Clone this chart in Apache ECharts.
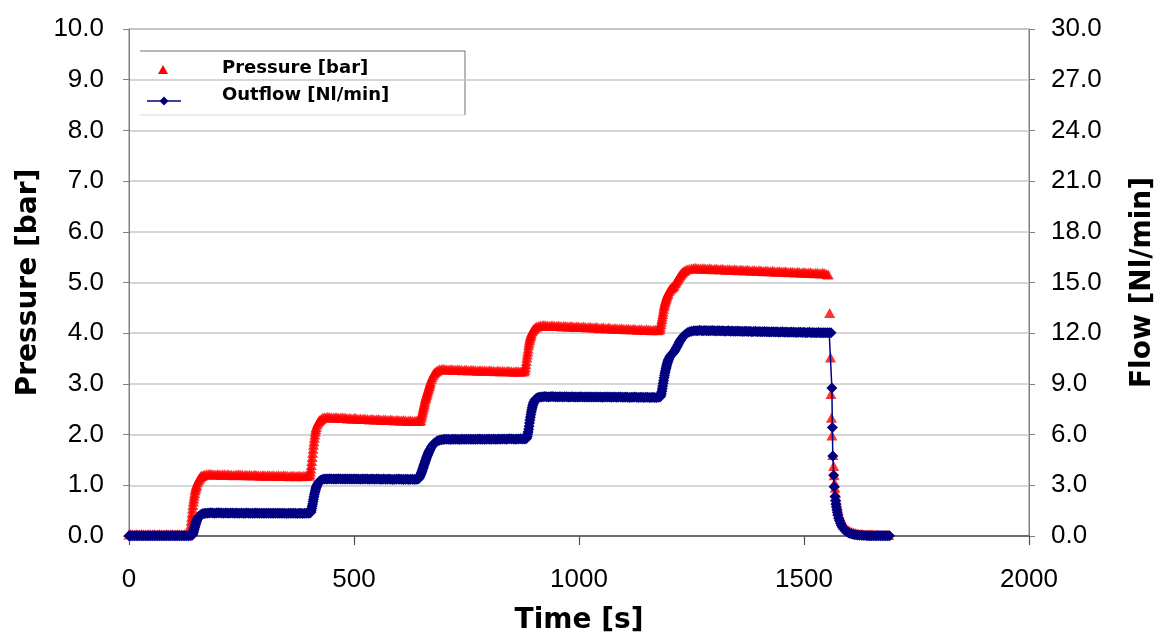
<!DOCTYPE html>
<html>
<head>
<meta charset="utf-8">
<script src="https://cdn.jsdelivr.net/npm/echarts@6/dist/echarts.min.js"></script>
<style>
html,body{margin:0;padding:0;background:#fff;}
#chart{width:1165px;height:640px;}
</style>
</head>
<body>
<div id="chart"></div>
<script>
// ---- data ----
const xTicks = [0, 500, 1000, 1500, 2000];
const seriesNames = ['Pressure [bar]', 'Outflow [Nl/min]'];

// Pressure [bar] vs time [s] (left axis)
const pressureTime = [
 0,4,8,12,16,20,24,28,32,36, 40,44,48,52,56,60,64,68,72,76, 80,84,88,92,96,100,104,108,112,116, 120,124,128,132,
 134,135,136,137,138,139,140,141,142,143, 144,145,146,147,148,149,150,152,154,156, 158,160,162,165,168,172,
 176,180,184,188,192,196,200,204,208,212, 216,220,224,228,232,236,240,244,248,252, 256,260,264,268,272,276,280,284,288,292,
 296,300,304,308,312,316,320,324,328,332, 336,340,344,348,352,356,360,364,368,372, 376,380,384,388,392,396,400,
 402,403,404,405,406,407,408,409,410,411, 412,413,414,415,416,418,420,422,424,427, 430,434,
 438,442,446,450,454,458,462,466,470,474, 478,482,486,490,494,498,502,506,510,514, 518,522,526,530,534,538,542,546,550,554,
 558,562,566,570,574,578,582,586,590,594, 598,602,606,610,614,618,622,626,630,634, 638,642,646,
 648,649,650,651,652,653,654,655,656,657, 658,659,660,661,662,663,664,665,666,667, 668,669,670,672,674,676,678,680,683,686, 690,
 694,698,702,706,710,714,718,722,726,730, 734,738,742,746,750,754,758,762,766,770, 774,778,782,786,790,794,798,802,806,810,
 814,818,822,826,830,834,838,842,846,850, 854,858,862,866,870,874,878,
 880,881,882,883,884,885,886,887,888,889, 890,891,892,893,894,896,898,900,903,906, 910,914,
 918,922,926,930,934,938,942,946,950,954, 958,962,966,970,974,978,982,986,990,994, 998,1002,1006,1010,1014,1018,1022,1026,1030,1034,
 1038,1042,1046,1050,1054,1058,1062,1066,1070,1074, 1078,1082,1086,1090,1094,1098,1102,1106,1110,1114, 1118,1122,1126,1130,1134,1138,1142,1146,1150,1154,
 1158,1162,1166,1170,1174,1178,
 1180,1181,1182,1183,1184,1185,1186,1187,1188,1189, 1190,1191,1192,1193,1194,1195,1196,1197,1198,1200, 1202,1204,1206,1208,1210,1212,1214,1216,1218,1220,
 1222,1224,1226,1228,1230,1233,1236,1240,1245,1250,
 1254,1258,1262,1266,1270,1274,1278,1282,1286,1290, 1294,1298,1302,1306,1310,1314,1318,1322,1326,1330, 1334,1338,1342,1346,1350,1354,1358,1362,1366,1370,
 1374,1378,1382,1386,1390,1394,1398,1402,1406,1410, 1414,1418,1422,1426,1430,1434,1438,1442,1446,1450, 1454,1458,1462,1466,1470,1474,1478,1482,1486,1490,
 1494,1498,1502,1506,1510,1514,1518,1522,1526,1530, 1534,1538,1542,1546,1550,1554,
 1557,1559,1560,1561,1562,1564,1566,1567,1568,1569, 1570,1571,1572,1574,1576,1578,1580,1582,1585,1588, 1591,1594,1598,1602,1606,1610,1615,1620,1625,1630,
 1635,1640,1644,1648,1652,1656,1660,1664,1668,1672, 1676,1680,1684,1688
];
const pressure = [
 0.03,0.04,0.03,0.03,0.04,0.03,0.03,0.04,0.03,0.03, 0.03,0.04,0.03,0.03,0.04,0.03,0.03,0.04,0.03,0.03, 0.03,0.04,0.03,0.03,0.04,0.03,0.03,0.04,0.03,0.03, 0.03,0.04,0.03,0.04,
 0.04,0.08,0.14,0.22,0.3,0.38,0.46,0.54,0.61,0.68, 0.74,0.8,0.85,0.9,0.94,0.98,1.01,1.06,1.1,1.13, 1.16,1.18,1.19,1.2,1.21,1.22,
 1.22,1.23,1.22,1.22,1.21,1.22,1.22,1.21,1.22,1.22, 1.21,1.22,1.21,1.21,1.20,1.21,1.21,1.22,1.21,1.21, 1.20,1.21,1.20,1.21,1.20,1.20,1.21,1.20,1.20,1.19,
 1.20,1.20,1.19,1.20,1.20,1.19,1.20,1.19,1.19,1.20, 1.19,1.19,1.20,1.19,1.19,1.18,1.19,1.19,1.19,1.18, 1.19,1.19,1.18,1.19,1.19,1.19,1.19,
 1.22,1.27,1.33,1.4,1.48,1.56,1.64,1.72,1.8,1.87, 1.94,2.0,2.06,2.11,2.15,2.2,2.24,2.27,2.29,2.31, 2.33,2.34,
 2.34,2.35,2.34,2.34,2.33,2.34,2.34,2.33,2.33,2.34, 2.33,2.33,2.32,2.33,2.32,2.32,2.33,2.32,2.31,2.32, 2.31,2.32,2.31,2.31,2.30,2.31,2.31,2.30,2.30,2.31,
 2.30,2.29,2.30,2.30,2.29,2.29,2.30,2.29,2.28,2.29, 2.29,2.28,2.28,2.29,2.28,2.27,2.28,2.28,2.27,2.27, 2.28,2.27,2.27,
 2.29,2.33,2.37,2.41,2.45,2.49,2.53,2.57,2.61,2.65, 2.69,2.72,2.75,2.78,2.81,2.84,2.87,2.9,2.93,2.96, 2.99,3.02,3.05,3.1,3.14,3.18,3.21,3.23,3.25,3.27, 3.29,
 3.29,3.30,3.29,3.29,3.28,3.29,3.29,3.28,3.28,3.29, 3.28,3.28,3.27,3.28,3.28,3.27,3.27,3.28,3.27,3.27, 3.26,3.27,3.27,3.26,3.27,3.26,3.26,3.27,3.26,3.26,
 3.25,3.26,3.26,3.25,3.26,3.25,3.25,3.26,3.25,3.25, 3.24,3.25,3.25,3.25,3.24,3.25,3.25,
 3.28,3.33,3.39,3.45,3.52,3.58,3.64,3.7,3.76,3.81, 3.86,3.9,3.94,3.97,4.0,4.04,4.07,4.09,4.11,4.13, 4.14,4.15,
 4.15,4.16,4.15,4.15,4.14,4.15,4.15,4.14,4.14,4.15, 4.14,4.13,4.14,4.14,4.13,4.13,4.14,4.13,4.12,4.13, 4.13,4.12,4.12,4.13,4.12,4.11,4.12,4.12,4.11,4.11,
 4.12,4.11,4.10,4.11,4.11,4.10,4.10,4.11,4.10,4.09, 4.10,4.10,4.09,4.09,4.10,4.09,4.08,4.09,4.09,4.08, 4.08,4.09,4.08,4.07,4.08,4.08,4.07,4.07,4.08,4.07,
 4.07,4.06,4.07,4.07,4.06,4.07,
 4.09,4.13,4.18,4.23,4.28,4.33,4.38,4.43,4.48,4.53, 4.57,4.61,4.64,4.67,4.7,4.73,4.76,4.78,4.8,4.83, 4.86,4.88,4.9,4.91,4.93,4.96,4.99,5.02,5.05,5.08,
 5.11,5.14,5.16,5.18,5.2,5.22,5.24,5.26,5.27,5.28,
 5.28,5.29,5.28,5.28,5.27,5.28,5.28,5.27,5.27,5.28, 5.27,5.26,5.27,5.27,5.26,5.26,5.27,5.26,5.25,5.26, 5.26,5.25,5.25,5.26,5.25,5.24,5.25,5.25,5.24,5.24,
 5.25,5.24,5.23,5.24,5.24,5.23,5.23,5.24,5.23,5.22, 5.23,5.23,5.22,5.22,5.23,5.22,5.21,5.22,5.22,5.21, 5.21,5.22,5.21,5.20,5.21,5.21,5.20,5.20,5.21,5.20,
 5.19,5.20,5.20,5.19,5.19,5.20,5.19,5.18,5.19,5.19, 5.18,5.18,5.19,5.18,5.17,5.16,
 4.4,3.52,2.8,2.33,1.98,1.6,1.38,1.2,1.05,0.95, 0.85,0.77,0.7,0.6,0.51,0.43,0.38,0.33,0.27,0.22, 0.18,0.15,0.12,0.1,0.08,0.07,0.06,0.05,0.04,0.04,
 0.03,0.03,0.03,0.03,0.03,0.02,0.02,0.03,0.02,0.02, 0.02,0.02,0.02,0.02
];

// Outflow [Nl/min] vs time [s] (right axis)
const flowTime = [
 0,4,8,12,16,20,24,28,32,36, 40,44,48,52,56,60,64,68,72,76, 80,84,88,92,96,100,104,108,112,116, 120,124,128,132,136,
 140,141,142,143,144,145,146,147,148,149, 150,151,152,153,154,155,156,158,160,162, 164,167,170,174,
 178,182,186,190,194,198,202,206,210,214, 218,222,226,230,234,238,242,246,250,254, 258,262,266,270,274,278,282,286,290,294,
 298,302,306,310,314,318,322,326,330,334, 338,342,346,350,354,358,362,366,370,374, 378,382,386,390,394,398,402,
 404,405,406,407,408,409,410,411,412,413, 414,415,416,417,418,420,422,424,427,430, 434,438,
 442,446,450,454,458,462,466,470,474,478, 482,486,490,494,498,502,506,510,514,518, 522,526,530,534,538,542,546,550,554,558,
 562,566,570,574,578,582,586,590,594,598, 602,606,610,614,618,622,626,630,634,638, 642,
 644,645,646,647,648,649,650,651,652,653, 654,655,656,657,658,659,660,661,662,663, 664,665,666,667,668,670,672,674,676,678,
 680,683,686,690,694,698,
 702,706,710,714,718,722,726,730,734,738, 742,746,750,754,758,762,766,770,774,778, 782,786,790,794,798,802,806,810,814,818,
 822,826,830,834,838,842,846,850,854,858, 862,866,870,874,878,882,
 884,885,886,887,888,889,890,891,892,893, 894,895,896,897,898,899,900,902,904,906, 909,912,916,
 920,924,928,932,936,940,944,948,952,956, 960,964,968,972,976,980,984,988,992,996, 1000,1004,1008,1012,1016,1020,1024,1028,1032,1036,
 1040,1044,1048,1052,1056,1060,1064,1068,1072,1076, 1080,1084,1088,1092,1096,1100,1104,1108,1112,1116, 1120,1124,1128,1132,1136,1140,1144,1148,1152,1156,
 1160,1164,1168,1172,1176,1180,
 1182,1183,1184,1185,1186,1187,1188,1189,1190,1191, 1192,1193,1194,1195,1196,1197,1198,1199,1200,1202, 1204,1206,1208,1210,1212,1214,1216,1218,1220,1222,
 1224,1226,1228,1230,1232,1235,1238,1242,1246,1250, 1255,1260,
 1264,1268,1272,1276,1280,1284,1288,1292,1296,1300, 1304,1308,1312,1316,1320,1324,1328,1332,1336,1340, 1344,1348,1352,1356,1360,1364,1368,1372,1376,1380,
 1384,1388,1392,1396,1400,1404,1408,1412,1416,1420, 1424,1428,1432,1436,1440,1444,1448,1452,1456,1460, 1464,1468,1472,1476,1480,1484,1488,1492,1496,1500,
 1504,1508,1512,1516,1520,1524,1528,1532,1536,1540, 1544,1548,1552,1556,1560,
 1562,1563,1564,1566,1567,1569,1570,1571,1572,1573, 1574,1575,1577,1579,1581,1583,1585,1587,1589,1592, 1595,1598,1601,1605,1609,1613,1618,1623,1628,1633,
 1638,1642,1646,1650,1654,1658,1662,1666,1670,1674, 1678,1682,1686,1690
];
const outflow = [
 0.02,0.01,0.02,0.02,0.01,0.02,0.02,0.01,0.02,0.02, 0.02,0.01,0.02,0.02,0.01,0.02,0.02,0.01,0.02,0.02, 0.02,0.01,0.02,0.02,0.01,0.02,0.02,0.01,0.02,0.02, 0.01,0.02,0.02,0.01,0.02,
 0.04,0.08,0.14,0.22,0.31,0.41,0.51,0.61,0.7,0.79, 0.87,0.94,1.0,1.05,1.1,1.14,1.17,1.22,1.26,1.29, 1.31,1.33,1.34,1.35,
 1.36,1.37,1.36,1.35,1.36,1.37,1.36,1.36,1.35,1.36, 1.36,1.35,1.36,1.36,1.35,1.36,1.35,1.35,1.36,1.35, 1.35,1.36,1.35,1.34,1.35,1.35,1.36,1.35,1.34,1.35,
 1.35,1.34,1.35,1.35,1.34,1.35,1.34,1.34,1.35,1.34, 1.34,1.35,1.34,1.33,1.34,1.34,1.35,1.34,1.34,1.33, 1.34,1.34,1.33,1.34,1.34,1.35,1.36,
 1.4,1.5,1.62,1.76,1.9,2.04,2.18,2.32,2.45,2.57, 2.68,2.78,2.87,2.95,3.02,3.12,3.2,3.26,3.31,3.34, 3.37,3.38,
 3.38,3.39,3.38,3.38,3.37,3.38,3.39,3.38,3.37,3.38, 3.38,3.37,3.38,3.38,3.37,3.37,3.38,3.37,3.36,3.37, 3.37,3.38,3.37,3.36,3.37,3.37,3.36,3.37,3.37,3.36,
 3.36,3.37,3.36,3.36,3.37,3.36,3.35,3.36,3.36,3.37, 3.36,3.36,3.35,3.36,3.36,3.35,3.36,3.36,3.35,3.36, 3.37,
 3.4,3.45,3.5,3.56,3.62,3.69,3.76,3.83,3.91,3.99, 4.07,4.15,4.23,4.31,4.39,4.47,4.55,4.62,4.69,4.76, 4.83,4.89,4.95,5.01,5.07,5.17,5.26,5.34,5.41,5.47,
 5.52,5.58,5.63,5.67,5.7,5.71,
 5.72,5.73,5.72,5.71,5.72,5.73,5.72,5.72,5.71,5.72, 5.73,5.72,5.72,5.73,5.72,5.73,5.73,5.72,5.73,5.74, 5.73,5.73,5.72,5.73,5.74,5.73,5.73,5.74,5.73,5.73,
 5.74,5.73,5.74,5.74,5.73,5.74,5.75,5.74,5.74,5.73, 5.74,5.74,5.75,5.74,5.74,5.75,
 5.8,5.9,6.02,6.16,6.32,6.5,6.68,6.86,7.03,7.19, 7.34,7.47,7.59,7.7,7.79,7.87,7.94,8.04,8.11,8.15, 8.19,8.21,8.23,
 8.24,8.25,8.24,8.23,8.24,8.25,8.24,8.24,8.23,8.24, 8.24,8.23,8.24,8.24,8.23,8.23,8.24,8.23,8.22,8.23, 8.23,8.24,8.23,8.22,8.23,8.23,8.22,8.23,8.23,8.22,
 8.22,8.23,8.22,8.21,8.22,8.22,8.23,8.22,8.21,8.22, 8.22,8.21,8.22,8.22,8.21,8.21,8.22,8.21,8.20,8.21, 8.21,8.22,8.21,8.20,8.21,8.21,8.20,8.21,8.21,8.20,
 8.20,8.21,8.20,8.20,8.21,8.22,
 8.3,8.42,8.56,8.72,8.88,9.04,9.2,9.36,9.5,9.64, 9.77,9.89,10.0,10.1,10.2,10.29,10.37,10.44,10.5,10.6, 10.68,10.75,10.8,10.86,10.93,11.02,11.12,11.22,11.32,11.42,
 11.52,11.6,11.68,11.75,11.82,11.9,11.97,12.04,12.09,12.12, 12.14,12.15,
 12.15,12.17,12.15,12.14,12.16,12.15,12.14,12.15,12.16,12.14, 12.13,12.15,12.14,12.13,12.14,12.12,12.13,12.14,12.12,12.13, 12.11,12.12,12.13,12.11,12.12,12.10,12.11,12.12,12.10,12.11,
 12.09,12.10,12.11,12.09,12.10,12.08,12.09,12.10,12.08,12.09, 12.07,12.08,12.09,12.07,12.08,12.06,12.07,12.08,12.06,12.07, 12.05,12.06,12.07,12.05,12.06,12.04,12.05,12.06,12.04,12.05,
 12.03,12.04,12.05,12.03,12.04,12.02,12.03,12.04,12.02,12.03, 12.03,12.02,12.03,12.02,12.03,
 8.76,6.42,4.74,3.6,2.91,2.34,2.1,1.9,1.72,1.55, 1.4,1.25,1.05,0.9,0.75,0.64,0.55,0.47,0.4,0.32, 0.26,0.21,0.17,0.13,0.1,0.08,0.06,0.05,0.04,0.03,
 0.03,0.02,0.02,0.02,0.02,0.02,0.02,0.02,0.02,0.02, 0.02,0.02,0.02,0.02
];

// ---- chart ----
const pressureData = pressureTime.map((t, i) => [t, pressure[i]]);
const flowData = flowTime.map((t, i) => [t, outflow[i]]);

const chart = echarts.init(document.getElementById('chart'), null, {renderer: 'canvas'});
const tickFont = {fontFamily: 'Liberation Sans, Arial, sans-serif', fontSize: 26, color: '#000'};
const titleFont = {fontFamily: 'DejaVu Sans', fontWeight: 'bold', fontSize: 28, color: '#000'};

chart.setOption({
  animation: false,
  backgroundColor: '#fff',
  grid: {left: 129, right: 128, top: 29, bottom: 97, show: true, borderColor: '#808080', borderWidth: 1},
  xAxis: {
    type: 'value', min: xTicks[0], max: xTicks[xTicks.length - 1], interval: 500,
    name: 'Time [s]', nameLocation: 'middle', nameGap: 71, nameTextStyle: titleFont,
    axisLine: {show: true, lineStyle: {color: '#505050', width: 1.5}},
    axisTick: {show: true, inside: false, length: 9, lineStyle: {color: '#505050', width: 1.2}},
    axisLabel: Object.assign({margin: 31, formatter: v => String(v)}, tickFont),
    splitLine: {show: false}
  },
  yAxis: [
    {
      type: 'value', min: 0, max: 10, interval: 1, position: 'left',
      name: 'Pressure [bar]', nameLocation: 'middle', nameRotate: 90, nameGap: 85, nameTextStyle: titleFont,
      axisLine: {show: true, lineStyle: {color: '#808080', width: 1}},
      axisTick: {show: true, inside: false, length: 6, lineStyle: {color: '#808080'}},
      axisLabel: Object.assign({margin: 25, formatter: v => v.toFixed(1)}, tickFont),
      splitLine: {show: true, lineStyle: {color: '#c8c8c8', width: 1.5}}
    },
    {
      type: 'value', min: 0, max: 30, interval: 3, position: 'right',
      name: 'Flow [Nl/min]', nameLocation: 'middle', nameRotate: 90, nameGap: 100, nameTextStyle: titleFont,
      axisLine: {show: true, lineStyle: {color: '#808080', width: 1}},
      axisTick: {show: true, inside: false, length: 6, lineStyle: {color: '#808080'}},
      axisLabel: Object.assign({margin: 22, formatter: v => v.toFixed(1)}, tickFont),
      splitLine: {show: false}
    }
  ],
  series: [
    {
      name: seriesNames[0], type: 'scatter', yAxisIndex: 0, data: pressureData,
      symbol: 'triangle', symbolSize: [11, 10], large: false,
      itemStyle: {color: '#ff0000'}
    },
    {
      name: seriesNames[1], type: 'line', yAxisIndex: 1, data: flowData,
      symbol: 'diamond', symbolSize: [11, 11], showSymbol: true, showAllSymbol: true,
      lineStyle: {color: '#000080', width: 1.5},
      itemStyle: {color: '#000080'}
    }
  ],
  graphic: [
    {type: 'polyline', shape: {points: [[140, 51], [465, 51], [465, 115]]}, style: {stroke: '#707070', lineWidth: 1, fill: null}},
    {type: 'line', shape: {x1: 140, y1: 115, x2: 465, y2: 115}, style: {stroke: '#d8d8d8', lineWidth: 1}},
    {type: 'polygon', shape: {points: [[163, 65], [168, 74], [158, 74]]}, style: {fill: '#ff0000'}},
    {type: 'line', shape: {x1: 147, y1: 101, x2: 181, y2: 101}, style: {stroke: '#000080', lineWidth: 1.5}},
    {type: 'polygon', shape: {points: [[164, 96.5], [168.5, 101], [164, 105.5], [159.5, 101]]}, style: {fill: '#000080'}},
    {type: 'text', left: 222, top: 59, style: {text: seriesNames[0], font: 'bold 18px "DejaVu Sans"', fill: '#000'}},
    {type: 'text', left: 222, top: 86, style: {text: seriesNames[1], font: 'bold 18px "DejaVu Sans"', fill: '#000'}}
  ]
});
</script>
</body>
</html>
